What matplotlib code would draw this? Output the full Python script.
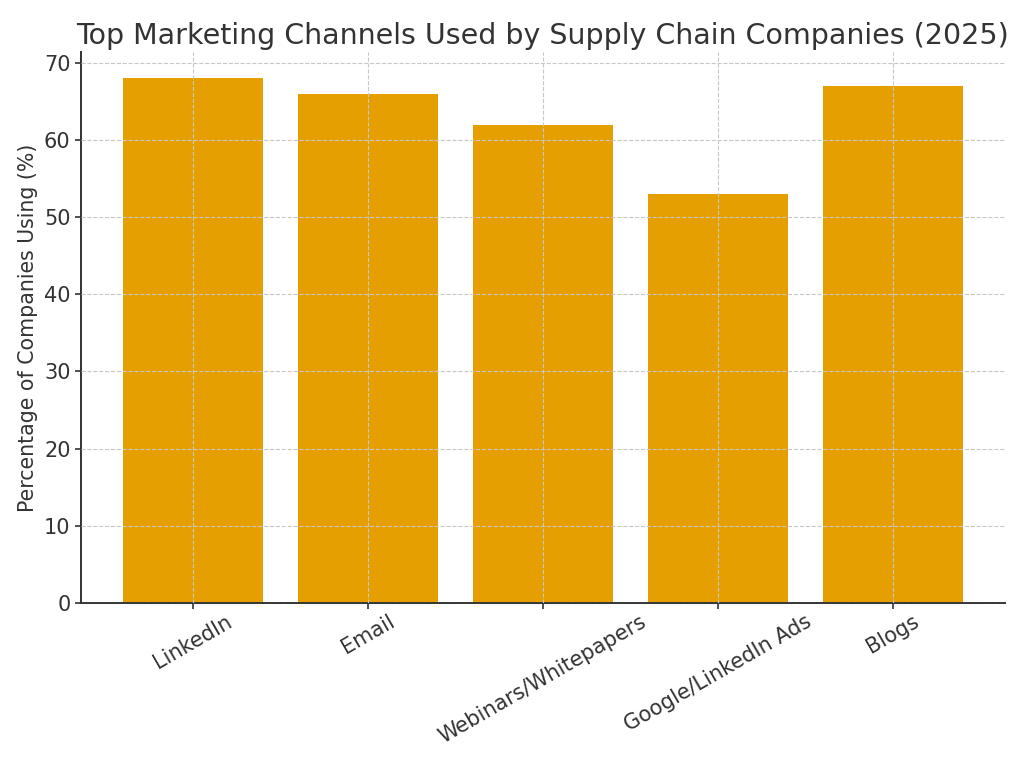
import matplotlib
matplotlib.use("Agg")
import matplotlib.pyplot as plt

channels = ["LinkedIn", "Email", "Webinars/Whitepapers", "Google/LinkedIn Ads", "Blogs"]
usage_pct = [68, 66, 62, 53, 67]

plt.rcParams['font.family'] = ['DejaVu Sans']
fig = plt.figure(figsize=(10.24, 7.68), dpi=100)
ax = fig.add_axes([81/1024, 1 - 603/768, (1005-81)/1024, (603-52)/768])

ax.bar(channels, usage_pct, color="#E69F00", width=0.8)
ax.set_title("Top Marketing Channels Used by Supply Chain Companies (2025)", fontsize=20.5, color="#333333")
ax.set_ylabel("Percentage of Companies Using (%)", fontsize=14.8, color="#333333")
ax.tick_params(axis='both', labelsize=15, colors="#333333", width=1.2, length=4)
ax.tick_params(axis='x', pad=2)
plt.setp(ax.get_xticklabels(), rotation=30)
ax.grid(True, linestyle='--', color='#c8c8c8', linewidth=0.8)
ax.set_axisbelow(False)
for s in ['top', 'right']:
    ax.spines[s].set_visible(False)
for s in ['left', 'bottom']:
    ax.spines[s].set_color('#333333')
    ax.spines[s].set_linewidth(1.4)

fig.savefig("out.png", dpi=100)
